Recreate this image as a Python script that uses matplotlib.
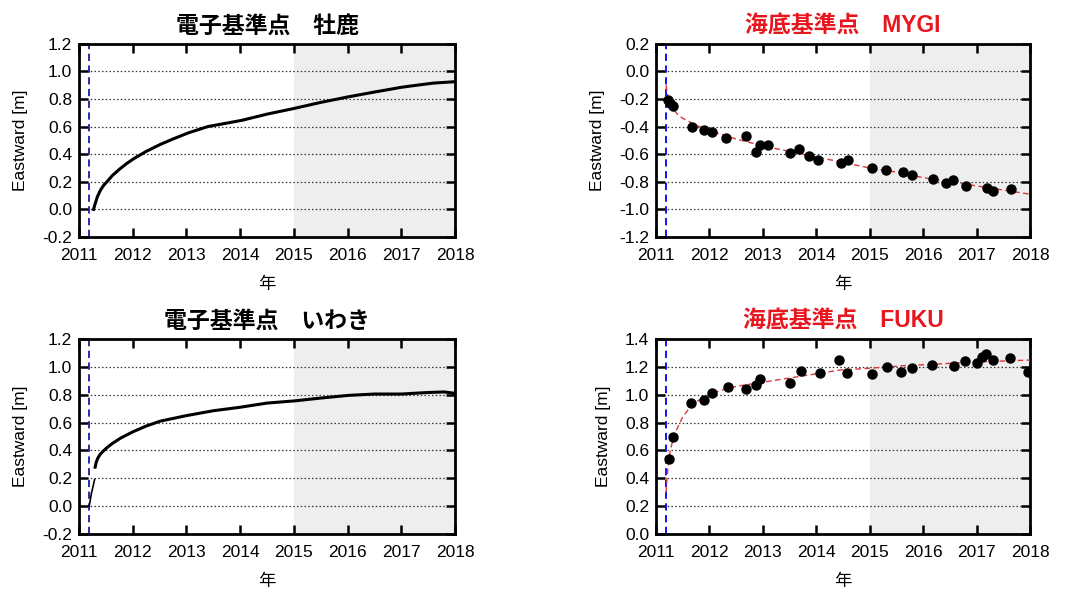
import numpy as np
import matplotlib.pyplot as plt
from matplotlib.ticker import FormatStrFormatter

plt.rcParams['font.family'] = ['Liberation Sans', 'Noto Sans CJK JP', 'DejaVu Sans']

quake = 2011.19

# 電子基準点 牡鹿
oshika_t = [2011.27, 2011.30, 2011.34, 2011.40, 2011.46, 2011.52, 2011.62, 2011.75, 2011.88,
            2012.01, 2012.25, 2012.51, 2012.75, 2013.04, 2013.40, 2013.75, 2014.03,
            2014.50, 2014.99, 2015.50, 2016.01, 2016.50, 2017.01, 2017.30, 2017.60, 2018.0]
oshika_e = [0.0, 0.04, 0.09, 0.14, 0.175, 0.20, 0.245, 0.29, 0.33,
            0.365, 0.42, 0.47, 0.51, 0.555, 0.60, 0.625, 0.645,
            0.69, 0.73, 0.775, 0.815, 0.85, 0.885, 0.90, 0.915, 0.925]

# 電子基準点 いわき
iwaki_t0 = [2011.19, 2011.23, 2011.29]
iwaki_e0 = [0.0, 0.09, 0.19]
iwaki_t = [2011.30, 2011.32, 2011.35, 2011.39, 2011.45, 2011.52, 2011.62, 2011.78, 2012.01,
           2012.25, 2012.51, 2013.0, 2013.5, 2014.0, 2014.5, 2015.02, 2015.5,
           2016.01, 2016.5, 2017.0, 2017.5, 2017.8, 2018.0]
iwaki_e = [0.28, 0.315, 0.345, 0.37, 0.395, 0.42, 0.45, 0.49, 0.535,
           0.575, 0.61, 0.65, 0.685, 0.71, 0.74, 0.756, 0.776,
           0.795, 0.805, 0.805, 0.816, 0.82, 0.81]

# 海底基準点 MYGI
mygi_t = [2011.22, 2011.27, 2011.32, 2011.67, 2011.89, 2012.04, 2012.32, 2012.68, 2012.88,
          2012.95, 2013.10, 2013.50, 2013.68, 2013.86, 2014.04, 2014.46, 2014.60,
          2015.05, 2015.30, 2015.62, 2015.80, 2016.19, 2016.43, 2016.56, 2016.80,
          2017.19, 2017.30, 2017.64]
mygi_e = [-0.205, -0.23, -0.254, -0.40, -0.423, -0.437, -0.483, -0.466, -0.584,
          -0.536, -0.534, -0.592, -0.560, -0.616, -0.640, -0.664, -0.645,
          -0.698, -0.717, -0.729, -0.749, -0.780, -0.809, -0.785, -0.828,
          -0.845, -0.864, -0.850]
mygi_fit_t = [2011.19, 2011.21, 2011.25, 2011.30, 2011.40, 2011.50, 2011.75, 2012.0, 2012.5,
              2013.0, 2013.5, 2014.0, 2014.5, 2015.0, 2015.5, 2016.0, 2016.5,
              2017.0, 2017.5, 2018.0]
mygi_fit_e = [-0.10, -0.16, -0.22, -0.26, -0.31, -0.34, -0.39, -0.43, -0.49,
              -0.54, -0.58, -0.62, -0.66, -0.70, -0.73, -0.77, -0.80,
              -0.83, -0.86, -0.89]

# 海底基準点 FUKU
fuku_t = [2011.25, 2011.32, 2011.65, 2011.90, 2012.04, 2012.34, 2012.68, 2012.88, 2012.95,
          2013.51, 2013.71, 2014.07, 2014.43, 2014.58, 2015.04, 2015.32, 2015.58,
          2015.79, 2016.16, 2016.57, 2016.79, 2017.01, 2017.10, 2017.18, 2017.30,
          2017.63, 2017.97]
fuku_e = [0.535, 0.696, 0.944, 0.965, 1.013, 1.052, 1.040, 1.069, 1.114,
          1.083, 1.167, 1.157, 1.246, 1.157, 1.148, 1.201, 1.160,
          1.189, 1.213, 1.208, 1.244, 1.227, 1.273, 1.292, 1.251,
          1.261, 1.165]
fuku_fit_t = [2011.19, 2011.21, 2011.24, 2011.27, 2011.30, 2011.35, 2011.40, 2011.50, 2011.64,
              2011.80, 2012.0, 2012.2, 2012.5, 2013.0, 2013.5, 2014.0, 2014.44,
              2015.0, 2015.69, 2016.0, 2016.5, 2017.0, 2017.5, 2018.0]
fuku_fit_e = [0.30, 0.42, 0.53, 0.60, 0.65, 0.71, 0.76, 0.84, 0.91,
              0.96, 1.00, 1.03, 1.06, 1.09, 1.12, 1.15, 1.177,
              1.19, 1.21, 1.215, 1.225, 1.235, 1.242, 1.249]

years = list(range(2011, 2019))


def setup(ax, title, tcolor, ylim, qcolor):
    ax.axvspan(2015, 2018, color='#eeeeee', lw=0, zorder=0)
    ax.axvline(quake, color=qcolor, ls=(0, (4, 2.5)), lw=1.3, zorder=2)
    ax.set_xlim(2011, 2018)
    ax.set_ylim(*ylim)
    ax.set_xticks(years)
    ax.set_yticks(np.round(np.arange(ylim[0], ylim[1] + 0.01, 0.2), 1) + 0.0)
    ax.yaxis.set_major_formatter(FormatStrFormatter('%.1f'))
    ax.grid(axis='y', ls=(0, (1.2, 1.8)), color='#333333', lw=0.9)
    ax.tick_params(direction='in', top=True, right=True, length=6.5, width=1.8,
                   labelsize=12.5)
    ax.tick_params(axis='x', pad=8)
    ax.tick_params(axis='y', pad=5)
    for s in ax.spines.values():
        s.set_linewidth(2)
    ax.set_title(title, color=tcolor, fontsize=16.5, fontweight='bold', pad=8)
    ax.set_xlabel('年', fontsize=12.5, labelpad=10)
    ax.set_ylabel('Eastward [m]', fontsize=12.5, labelpad=10)


fig = plt.figure(figsize=(10.81, 5.91), dpi=100)
ax1 = fig.add_axes([0.0731, 0.599, 0.3478, 0.327])
ax2 = fig.add_axes([0.6068, 0.599, 0.3460, 0.327])
ax3 = fig.add_axes([0.0731, 0.0964, 0.3478, 0.330])
ax4 = fig.add_axes([0.6068, 0.0964, 0.3460, 0.330])

setup(ax1, '電子基準点　牡鹿', 'black', (-0.2, 1.2), '#1a1aa0')
ax1.plot(oshika_t, oshika_e, color='black', lw=2.2, zorder=3)

setup(ax2, '海底基準点　MYGI', '#e8161e', (-1.2, 0.2), '#0000ff')
ax2.plot(mygi_fit_t, mygi_fit_e, color='#d63a3a', lw=1, ls=(0, (4, 2.5)), zorder=3)
ax2.plot(mygi_t, mygi_e, 'o', color='black', ms=6.5, zorder=4)

setup(ax3, '電子基準点　いわき', 'black', (-0.2, 1.2), '#1a1aa0')
ax3.plot(iwaki_t0, iwaki_e0, color='black', lw=1.2, zorder=3)
ax3.plot(iwaki_t, iwaki_e, color='black', lw=2.2, zorder=3)

setup(ax4, '海底基準点　FUKU', '#e8161e', (0.0, 1.4), '#0000ff')
ax4.plot(fuku_fit_t, fuku_fit_e, color='#d63a3a', lw=1, ls=(0, (4, 2.5)), zorder=3)
ax4.plot(fuku_t, fuku_e, 'o', color='black', ms=6.5, zorder=4)

plt.savefig('out.png', dpi=100)
